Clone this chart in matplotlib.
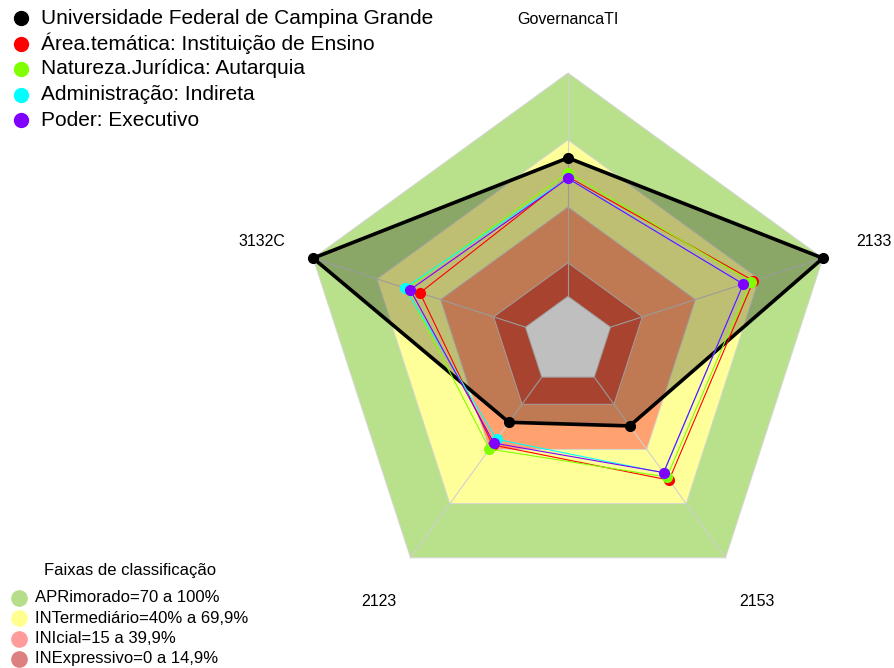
import numpy as np
import matplotlib.pyplot as plt
from matplotlib.patches import Polygon

plt.rcParams['font.family'] = ['Liberation Sans', 'DejaVu Sans']

# axes of the radar, clockwise from the top
axes_labels = ['GovernancaTI', '2133', '2153', '2123', '3132C']

series_names = ['Universidade Federal de Campina Grande',
                'Área.temática: Instituição de Ensino',
                'Natureza.Jurídica: Autarquia',
                'Administração: Indireta',
                'Poder: Executivo']
series_colors = ['black', '#ff0000', '#80ff00', '#00ffff', '#8000ff']

ufcg = [62, 100, 27, 25, 100]
area_tematica = [53.5, 67.3, 57, 37.5, 49.7]
natureza = [55.4, 66, 55.3, 39.8, 56]
administracao = [53, 62.5, 53, 34.4, 56.8]
poder = [52.8, 62.5, 52.8, 36.5, 54.3]
series_values = [ufcg, area_tematica, natureza, administracao, poder]

# classification bands (upper limit of each band, in %)
band_limits = [100, 70, 40, 15, 0]
band_colors = ['#b9e08b', '#ffff9a', '#ffa26f', '#e05a40', 'white']
legend_names = ['APRimorado=70 a 100%', 'INTermediário=40% a 69,9%',
                'INIcial=15 a 39,9%', 'INExpressivo=0 a 14,9%']
legend_colors = ['#b5dd8a', '#ffff8f', '#ff9b9b', '#dc8080']

W, H = 894, 668
CX, CY, R = 568, 341, 268
gap = 1 / 6  # center gap like fmsb (centerzero = FALSE)

angles = np.deg2rad(90 - 72 * np.arange(len(axes_labels)))
ux, uy = np.cos(angles), np.sin(angles)


def scale(v):
    return gap + (1 - gap) * np.asarray(v, dtype=float) / 100


fig = plt.figure(figsize=(W / 100, H / 100), dpi=100)
ax = fig.add_axes([0, 0, 1, 1])
ax.set_xlim(-CX / R, (W - CX) / R)
ax.set_ylim((CY - H) / R, CY / R)
ax.set_aspect('equal')
ax.axis('off')

# bands
for lim, col in zip(band_limits, band_colors):
    r = scale(lim)
    ax.add_patch(Polygon(np.c_[ux * r, uy * r], closed=True, facecolor=col,
                         edgecolor='#d6d6d6', lw=0.7, zorder=1))

# radial axis lines
for x, y in zip(ux, uy):
    ax.plot([x * gap, x], [y * gap, y], color='#d0d0d0', lw=0.8, zorder=2)

# series
for i, (vals, col) in enumerate(zip(series_values, series_colors)):
    r = scale(vals)
    px, py = ux * r, uy * r
    if i == 0:
        ax.add_patch(Polygon(np.c_[px, py], closed=True, facecolor=(0, 0, 0, 0.25),
                             edgecolor='none', zorder=3))
        lw = 2.6
    else:
        lw = 0.8
    ax.plot(np.r_[px, px[0]], np.r_[py, py[0]], color=col, lw=lw, zorder=4 + i)
    ax.plot(px, py, 'o', color=col, ms=7, mec=col, zorder=4 + i)

# axis labels
for lab, x, y in zip(axes_labels, ux, uy):
    ax.text(1.2 * x, 1.2 * y, lab, ha='center', va='center', fontsize=11.5)

# top legend (series)
for i, (name, col) in enumerate(zip(series_names, series_colors)):
    yy = 1 - (18 + 25.5 * i) / H
    fig.lines.append(plt.Line2D([21 / W], [yy], marker='o', ms=10, color=col,
                                transform=fig.transFigure))
    fig.text(41 / W, yy, name, ha='left', va='center', fontsize=15)

# bottom legend (bands)
fig.text(130 / W, 1 - 571 / H, 'Faixas de classificação', ha='center',
         va='center', fontsize=12)
for i, (name, col) in enumerate(zip(legend_names, legend_colors)):
    yy = 1 - (598 + 20.3 * i) / H
    fig.lines.append(plt.Line2D([19 / W], [yy], marker='o', ms=11, color=col,
                                transform=fig.transFigure))
    fig.text(35 / W, yy, name, ha='left', va='center', fontsize=12)

fig.savefig('out.png', dpi=100)
